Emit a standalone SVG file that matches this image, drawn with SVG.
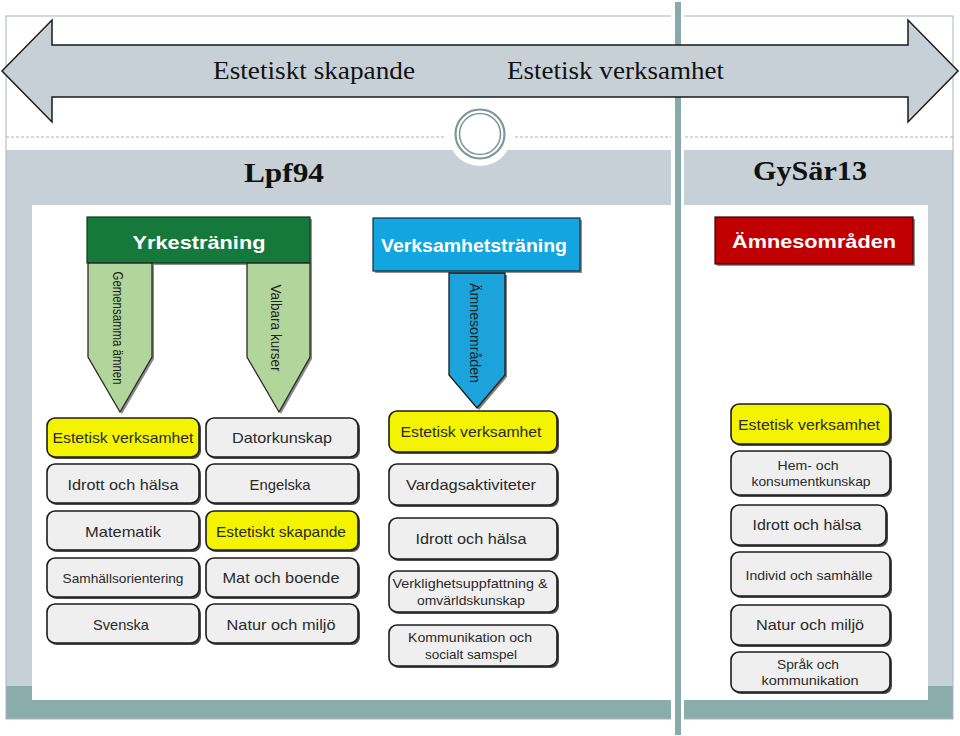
<svg xmlns="http://www.w3.org/2000/svg" width="960" height="736" viewBox="0 0 960 736">
<defs>
<style>
.frame{fill:none;stroke:#aab3b8;stroke-width:1}
.band{fill:#c7d0d7}
.teal{fill:#8aadab}
.big{fill:#c7d0d7;stroke:#1a1a1a;stroke-width:1.5;stroke-linejoin:miter}
.ser{font-family:"Liberation Serif","DejaVu Serif",serif;fill:#111;text-anchor:middle}
.hdr{font-family:"Liberation Sans","DejaVu Sans",sans-serif;font-weight:bold;font-size:19px;fill:#fff;text-anchor:middle;dominant-baseline:central}
.rot{font-family:"Liberation Sans","DejaVu Sans",sans-serif;font-size:14.5px;fill:#222;text-anchor:middle;dominant-baseline:central}
.btn{fill:#efefef;stroke:#1c1c1c;stroke-width:1.6}
.yel{fill:#f4f400;stroke:#1c1c1c;stroke-width:1.6}
.sh{fill:#4a4a4a}
.bt{font-family:"Liberation Sans","DejaVu Sans",sans-serif;font-size:14.5px;fill:#2a2a2a;text-anchor:middle;dominant-baseline:central}
.bs{font-family:"Liberation Sans","DejaVu Sans",sans-serif;font-size:13px;fill:#2a2a2a;text-anchor:middle;dominant-baseline:central}
</style>
</defs>
<!-- background -->
<rect x="0" y="0" width="960" height="736" fill="#fff"/>
<rect class="band" x="6" y="150" width="947" height="536"/>
<rect class="teal" x="6" y="686" width="947" height="33"/>
<rect x="6" y="16" width="666" height="703" class="frame"/>
<rect x="682" y="16" width="271" height="703" class="frame"/>
<rect x="32" y="205" width="896" height="495" fill="#fff"/>
<line x1="6" y1="137" x2="445" y2="137" stroke="#b0b0b0" stroke-width="1.2" stroke-dasharray="3 2"/>
<line x1="515" y1="137" x2="953" y2="137" stroke="#b0b0b0" stroke-width="1.2" stroke-dasharray="3 2"/>
<circle cx="480" cy="134" r="32" fill="#fff"/>
<circle cx="480" cy="134" r="24.5" fill="none" stroke="#7d9898" stroke-width="2.2"/>
<circle cx="480" cy="134" r="20.5" fill="none" stroke="#7d9898" stroke-width="1.6"/>
<!-- divider -->
<rect x="671" y="0" width="13" height="736" fill="#fff"/>
<rect x="675" y="2" width="6" height="733" fill="#88aaad"/>
<!-- big double arrow -->
<g id="timeline">
<polygon class="big" points="2,71 52,20 52,45 908,45 908,20 958,71 908,122 908,97 52,97 52,122"/>
<text class="ser" x="314" y="79" font-size="26" textLength="202" lengthAdjust="spacingAndGlyphs">Estetiskt skapande</text>
<text class="ser" x="615.5" y="79" font-size="26" textLength="217" lengthAdjust="spacingAndGlyphs">Estetisk verksamhet</text>
</g>
<g id="title-lpf94"><text class="ser" x="284" y="182" font-size="27" font-weight="bold" textLength="80" lengthAdjust="spacingAndGlyphs">Lpf94</text></g>
<g id="title-gysar13"><text class="ser" x="810" y="180" font-size="27" font-weight="bold" textLength="114" lengthAdjust="spacingAndGlyphs">GySär13</text></g>
<!-- headers -->
<g id="yrkestraning">
<rect x="89" y="219" width="223" height="46" fill="#222" opacity="0.5"/>
<rect x="87" y="217" width="223" height="46" fill="#15793c" stroke="#0d3b1f" stroke-width="1.2"/>
<text class="hdr" x="199" y="242" textLength="133" lengthAdjust="spacingAndGlyphs">Yrkesträning</text>
</g>
<g id="verksamhetstraning">
<rect x="375" y="220" width="207" height="53" fill="#222" opacity="0.5"/>
<rect x="373" y="218" width="207" height="53" fill="#12a5df" stroke="#0c2f44" stroke-width="1.2"/>
<text class="hdr" x="474" y="245" textLength="186" lengthAdjust="spacingAndGlyphs">Verksamhetsträning</text>
</g>
<g id="amnesomraden-header">
<rect x="717" y="219" width="198" height="47" fill="#222" opacity="0.5"/>
<rect x="715" y="217" width="198" height="47" fill="#c00000" stroke="#3a0000" stroke-width="1.2"/>
<text class="hdr" x="814" y="241" textLength="164" lengthAdjust="spacingAndGlyphs">Ämnesområden</text>
</g>
<!-- connectors (block arrows) -->
<g id="connectors">
<polygon points="90,265 154,265 154,359 122,414 90,359" fill="#3a3a3a" opacity="0.6"/>
<polygon points="88,263 152,263 152,357 120,412 88,357" fill="#b1d59a" stroke="#2a2a2a" stroke-width="1.3"/>
<text class="rot" transform="translate(118,328) rotate(90)" textLength="113" lengthAdjust="spacingAndGlyphs">Gemensamma ämnen</text>
<polygon points="249,265 312,265 312,359 281,414 249,359" fill="#3a3a3a" opacity="0.6"/>
<polygon points="247,263 310,263 310,357 279,412 247,357" fill="#b1d59a" stroke="#2a2a2a" stroke-width="1.3"/>
<text class="rot" transform="translate(276,328) rotate(90)" textLength="87" lengthAdjust="spacingAndGlyphs">Valbara kurser</text>
<polygon points="451,275 507,275 507,377 479,410 451,377" fill="#2a2a2a" opacity="0.6"/>
<polygon points="449,273 505,273 505,375 477,408 449,375" fill="#1ca3db" stroke="#1a1a1a" stroke-width="1.3"/>
<text class="rot" transform="translate(475,333) rotate(90)" textLength="100" lengthAdjust="spacingAndGlyphs">Ämnesområden</text>
</g>
<!-- Lpf94 column 1 -->
<g id="l1-estetisk-verksamhet"><rect class="sh" x="49" y="420" width="152" height="39" rx="8"/><rect class="yel" x="47" y="418" width="152" height="39" rx="8"/><text class="bt" x="123" y="438" textLength="141" lengthAdjust="spacingAndGlyphs">Estetisk verksamhet</text></g>
<g id="l1-idrott"><rect class="sh" x="49" y="466" width="152" height="39" rx="8"/><rect class="btn" x="47" y="464" width="152" height="39" rx="8"/><text class="bt" x="123" y="485" textLength="111" lengthAdjust="spacingAndGlyphs">Idrott och hälsa</text></g>
<g id="l1-matematik"><rect class="sh" x="49" y="513" width="152" height="39" rx="8"/><rect class="btn" x="47" y="511" width="152" height="39" rx="8"/><text class="bt" x="123" y="532" textLength="76" lengthAdjust="spacingAndGlyphs">Matematik</text></g>
<g id="l1-samhallsorientering"><rect class="sh" x="49" y="560" width="152" height="39" rx="8"/><rect class="btn" x="47" y="558" width="152" height="39" rx="8"/><text class="bs" x="123" y="578" textLength="121" lengthAdjust="spacingAndGlyphs">Samhällsorientering</text></g>
<g id="l1-svenska"><rect class="sh" x="49" y="606" width="152" height="39" rx="8"/><rect class="btn" x="47" y="604" width="152" height="39" rx="8"/><text class="bt" x="121" y="625" textLength="56" lengthAdjust="spacingAndGlyphs">Svenska</text></g>
<!-- Lpf94 column 2 -->
<g id="l2-datorkunskap"><rect class="sh" x="208" y="420" width="152" height="39" rx="8"/><rect class="btn" x="206" y="418" width="152" height="39" rx="8"/><text class="bt" x="282" y="438" textLength="100" lengthAdjust="spacingAndGlyphs">Datorkunskap</text></g>
<g id="l2-engelska"><rect class="sh" x="208" y="466" width="152" height="39" rx="8"/><rect class="btn" x="206" y="464" width="152" height="39" rx="8"/><text class="bt" x="280" y="485" textLength="61" lengthAdjust="spacingAndGlyphs">Engelska</text></g>
<g id="l2-estetiskt-skapande"><rect class="sh" x="208" y="513" width="152" height="39" rx="8"/><rect class="yel" x="206" y="511" width="152" height="39" rx="8"/><text class="bt" x="281" y="532" textLength="130" lengthAdjust="spacingAndGlyphs">Estetiskt skapande</text></g>
<g id="l2-mat-och-boende"><rect class="sh" x="208" y="560" width="152" height="39" rx="8"/><rect class="btn" x="206" y="558" width="152" height="39" rx="8"/><text class="bt" x="281" y="578" textLength="117" lengthAdjust="spacingAndGlyphs">Mat och boende</text></g>
<g id="l2-natur-och-miljo"><rect class="sh" x="208" y="606" width="152" height="39" rx="8"/><rect class="btn" x="206" y="604" width="152" height="39" rx="8"/><text class="bt" x="281" y="625" textLength="109" lengthAdjust="spacingAndGlyphs">Natur och miljö</text></g>
<!-- Verksamhetsträning column -->
<g id="v-estetisk-verksamhet"><rect class="sh" x="391" y="413" width="168" height="41" rx="8"/><rect class="yel" x="389" y="411" width="168" height="41" rx="8"/><text class="bt" x="471" y="432" textLength="141" lengthAdjust="spacingAndGlyphs">Estetisk verksamhet</text></g>
<g id="v-vardagsaktiviteter"><rect class="sh" x="391" y="466" width="168" height="41" rx="8"/><rect class="btn" x="389" y="464" width="168" height="41" rx="8"/><text class="bt" x="471" y="485" textLength="130" lengthAdjust="spacingAndGlyphs">Vardagsaktiviteter</text></g>
<g id="v-idrott"><rect class="sh" x="391" y="520" width="168" height="41" rx="8"/><rect class="btn" x="389" y="518" width="168" height="41" rx="8"/><text class="bt" x="471" y="539" textLength="111" lengthAdjust="spacingAndGlyphs">Idrott och hälsa</text></g>
<g id="v-verklighetsuppfattning"><rect class="sh" x="391" y="573" width="168" height="41" rx="8"/><rect class="btn" x="389" y="571" width="168" height="41" rx="8"/><text class="bs" x="470" y="583" textLength="155" lengthAdjust="spacingAndGlyphs">Verklighetsuppfattning &amp;</text><text class="bs" x="471" y="600" textLength="108" lengthAdjust="spacingAndGlyphs">omvärldskunskap</text></g>
<g id="v-kommunikation"><rect class="sh" x="391" y="627" width="168" height="41" rx="8"/><rect class="btn" x="389" y="625" width="168" height="41" rx="8"/><text class="bs" x="470" y="637" textLength="124" lengthAdjust="spacingAndGlyphs">Kommunikation och</text><text class="bs" x="471" y="654" textLength="92" lengthAdjust="spacingAndGlyphs">socialt samspel</text></g>
<!-- GySär13 column -->
<g id="g-estetisk-verksamhet"><rect class="sh" x="733" y="406" width="159" height="40" rx="8"/><rect class="yel" x="731" y="404" width="159" height="40" rx="8"/><text class="bt" x="809" y="425" textLength="142" lengthAdjust="spacingAndGlyphs">Estetisk verksamhet</text></g>
<g id="g-hem-och-konsumentkunskap"><rect class="sh" x="733" y="453" width="159" height="44" rx="8"/><rect class="btn" x="731" y="451" width="159" height="44" rx="8"/><text class="bs" x="808" y="465" textLength="61" lengthAdjust="spacingAndGlyphs">Hem- och</text><text class="bs" x="811" y="481" textLength="119" lengthAdjust="spacingAndGlyphs">konsumentkunskap</text></g>
<g id="g-idrott"><rect class="sh" x="733" y="507" width="155" height="40" rx="8"/><rect class="btn" x="731" y="505" width="155" height="40" rx="8"/><text class="bt" x="807" y="525" textLength="109" lengthAdjust="spacingAndGlyphs">Idrott och hälsa</text></g>
<g id="g-individ-och-samhalle"><rect class="sh" x="733" y="554" width="159" height="44" rx="8"/><rect class="btn" x="731" y="552" width="159" height="44" rx="8"/><text class="bs" x="809" y="575" textLength="127" lengthAdjust="spacingAndGlyphs">Individ och samhälle</text></g>
<g id="g-natur-och-miljo"><rect class="sh" x="733" y="607" width="159" height="40" rx="8"/><rect class="btn" x="731" y="605" width="159" height="40" rx="8"/><text class="bt" x="810" y="625" textLength="108" lengthAdjust="spacingAndGlyphs">Natur och miljö</text></g>
<g id="g-sprak-och-kommunikation"><rect class="sh" x="733" y="654" width="159" height="40" rx="8"/><rect class="btn" x="731" y="652" width="159" height="40" rx="8"/><text class="bs" x="808" y="664" textLength="62" lengthAdjust="spacingAndGlyphs">Språk och</text><text class="bs" x="810" y="680" textLength="97" lengthAdjust="spacingAndGlyphs">kommunikation</text></g>
</svg>
